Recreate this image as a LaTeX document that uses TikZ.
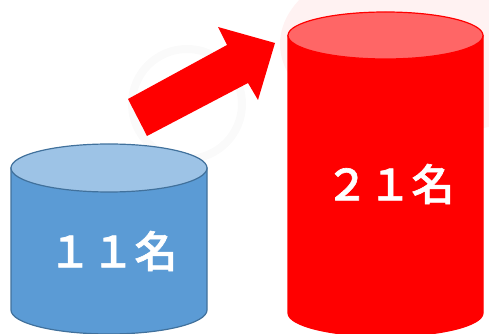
\documentclass[tikz,border=0pt]{standalone}
\usepackage{fontspec}
\newfontfamily\cjk{Noto Sans CJK JP Medium}[FakeBold=1.5]
\definecolor{bluebody}{HTML}{5B9BD5}
\definecolor{bluelid}{HTML}{9DC3E6}
\definecolor{blueedge}{HTML}{41719C}
\definecolor{redbody}{HTML}{FF0000}
\definecolor{redlid}{HTML}{FF6666}
\tikzset{
  count/.style={text=white, font=\cjk\fontsize{43}{43}\selectfont}
}
\begin{document}
\begin{tikzpicture}[x=1pt, y=1pt]
      \useasboundingbox (0, 0) rectangle (489, 334);
      \clip (0, 0) rectangle (489, 334);
      % faint background
      \fill[red!5] (430, 290) ellipse [x radius=150pt, y radius=90pt];
      \draw[gray!4, line width=8pt] (187, 230) circle [radius=55pt];
      % cylinders
      \foreach \cx/\rx/\ry/\top/\bot/\body/\lid/\edge in {
        109/98/24/166/24/bluebody/bluelid/blueedge,
        385.5/97.5/23.5/298.5/21/redbody/redlid/redbody}{
        \filldraw[fill=\body, draw=\edge, line width=1.2pt]
          (\cx - \rx, \top) -- (\cx - \rx, \bot)
          arc [start angle=180, end angle=360, x radius=\rx pt, y radius=\ry pt]
          -- (\cx + \rx, \top) -- cycle;
        \filldraw[fill=\lid, draw=\edge, line width=1.2pt]
          (\cx, \top) ellipse [x radius=\rx pt, y radius=\ry pt];
      }
      \node[count] (n11) at (113, 83) {１１名};
      \node[count] (n21) at (390, 150) {２１名};
      % arrow
      \fill[redbody] (128, 235) -- (227, 289) -- (218, 307) -- (275, 291)
        -- (258, 234) -- (248, 251) -- (147, 198) -- cycle;
    \end{tikzpicture}
\end{document}
